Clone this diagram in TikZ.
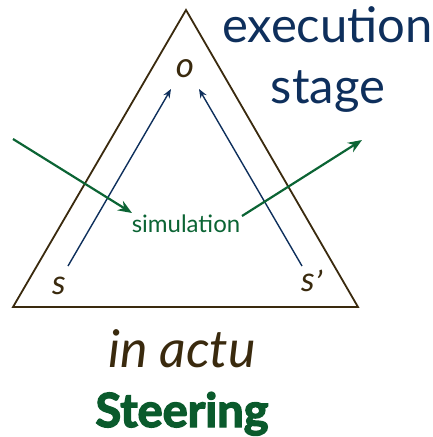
\documentclass[tikz,border=0pt]{standalone}
\usepackage{fontspec}
\setmainfont{Lato}[BoldFont={Lato Bold}]
\newfontfamily\latolig{Lato}[Ligatures=Rare]
\usetikzlibrary{arrows.meta}
\definecolor{tribrown}{HTML}{3A2A0E}
\definecolor{navy}{HTML}{0E2F5C}
\definecolor{dgreen}{HTML}{0B6434}
\definecolor{sgreen}{HTML}{0A5A2C}
\tikzset{
  lbl/.style={inner sep=0pt, anchor=base},
  bluearrow/.style={navy, line width=1.4pt, -{Stealth[length=9pt,width=7pt]}},
  greenarrow/.style={dgreen, line width=2.2pt, -{Stealth[length=14pt,width=11pt]}},
  tri/.style={tribrown, line width=1.8pt, line join=miter}
}
\begin{document}
\begin{tikzpicture}[x=1pt,y=-1pt]
\useasboundingbox (0,0) rectangle (433,437);
\coordinate (apex) at (186,10);
\coordinate (bl) at (13,307);
\coordinate (br) at (358,307);
\draw[tri] (apex) -- (bl) -- (br) -- cycle;
\node[lbl, tribrown] (o) at (185,77) {\fontsize{35}{40}\selectfont\itshape o};
\node[lbl, tribrown] (s) at (59,294) {\fontsize{34}{40}\selectfont\itshape s};
\node[lbl, tribrown, anchor=base west] (sp) at (301,291) {\fontsize{34}{40}\selectfont\itshape s\kern0.02em\raisebox{-0.12em}{’}};
\node[lbl, dgreen] (sim) at (186,232) {\latolig\fontsize{24}{28}\selectfont simulation};
\node[lbl, navy, anchor=base west] (exe) at (222,42) {\latolig\fontsize{49}{50}\selectfont execution};
\node[lbl, navy] (stage) at (328,103) {\fontsize{49}{50}\selectfont stage};
\node[lbl, tribrown] (actu) at (182,367) {\fontsize{52}{50}\selectfont\itshape in actu};
\node[lbl, sgreen] (steer) at (182,427) {\fontsize{47}{45}\selectfont\bfseries\addfontfeature{FakeBold=3}Steering};
\coordinate (sstart) at (68,266);
\coordinate (otipl) at (171,89);
\coordinate (spstart) at (302,266);
\coordinate (otipr) at (199,89);
\coordinate (gin) at (13,139);
\coordinate (simin) at (132,213);
\coordinate (simout) at (242,216);
\coordinate (gout) at (362,140);
\draw[bluearrow] (sstart) -- (otipl);
\draw[bluearrow] (spstart) -- (otipr);
\draw[greenarrow] (gin) -- (simin);
\draw[greenarrow] (simout) -- (gout);
\end{tikzpicture}
\end{document}
